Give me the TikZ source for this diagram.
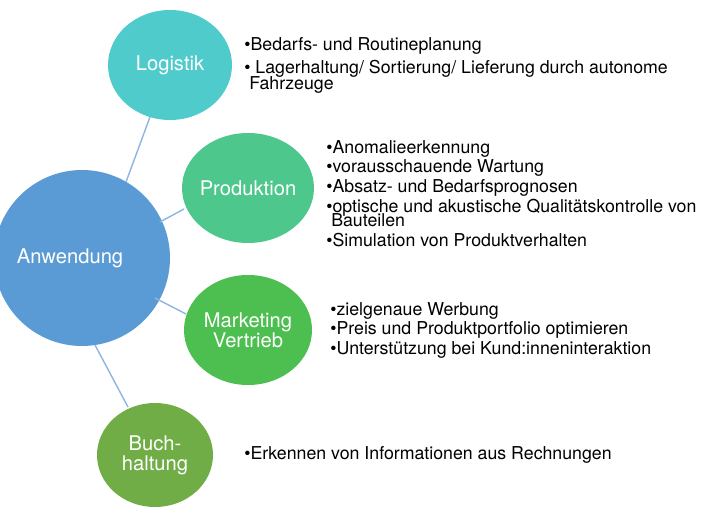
\documentclass[tikz,border=0pt]{standalone}
\usepackage{fontspec}
\setmainfont{TeX Gyre Heros}
\usetikzlibrary{positioning}
\definecolor{anwblue}{HTML}{5B9BD5}
\definecolor{logteal}{HTML}{4FCBCB}
\definecolor{prodgreen}{HTML}{4DC78C}
\definecolor{mktgreen}{HTML}{4DBE50}
\definecolor{buchgreen}{HTML}{70AD47}
\definecolor{linkblue}{HTML}{8EB4E3}
\begin{document}
\begin{tikzpicture}[x=0.02cm,y=-0.02cm]
  % Styles
  \tikzset{
    topic/.style={text=white,font=\fontsize{11.5}{12.5}\selectfont,align=center},
    bullets/.style={anchor=north west,align=left,inner sep=0pt,
      font=\fontsize{10.1}{11.2}\selectfont},
    link/.style={draw=linkblue,line width=0.8pt}
  }
  \useasboundingbox (0,0) rectangle (707,513);
  \begin{scope}
    \clip (0,0) rectangle (707,513);
    \fill[anwblue] (82,258) ellipse [x radius=88, y radius=88];
  \end{scope}
  \fill[logteal] (170,65) ellipse [x radius=62, y radius=55];
  \fill[prodgreen] (248,188) ellipse [x radius=66, y radius=55];
  \fill[mktgreen] (248,330) ellipse [x radius=64, y radius=55];
  \fill[buchgreen] (155,455) ellipse [x radius=58, y radius=52];
  \node (anw) at (70,258) [topic] {Anwendung};
  \node (log) at (170,65) [topic] {Logistik};
  \node (prod) at (248,188) [topic] {Produktion};
  \node (mkt) at (248,330) [topic] {Marketing\\[-1pt]Vertrieb};
  \node (buch) at (155,455) [topic] {Buch-\\[-1pt]haltung};

  % Connectors
  \coordinate (a1) at (126,182); \coordinate (b1) at (150,117);
  \coordinate (a2) at (160,222); \coordinate (b2) at (184,209);
  \coordinate (a3) at (155,298); \coordinate (b3) at (186,314);
  \coordinate (a4) at (95,345);  \coordinate (b4) at (128,407);
  \draw[link] (a1) -- (b1);
  \draw[link] (a2) -- (b2);
  \draw[link] (a3) -- (b3);
  \draw[link] (a4) -- (b4);

  % Lists
  \node (llog) at (244,37) [bullets] {•Bedarfs- und Routineplanung\\[2pt]
    • Lagerhaltung/ Sortierung/ Lieferung durch autonome\\[-2pt]
    \ Fahrzeuge};
  \node (lprod) at (326,140) [bullets] {•Anomalieerkennung\\[0pt]
    •vorausschauende Wartung\\[0pt]
    •Absatz- und Bedarfsprognosen\\[0pt]
    •optische und akustische Qualitätskontrolle von\\[-3pt]
    \ Bauteilen\\[0pt]
    •Simulation von Produktverhalten};
  \node (lmkt) at (330,302) [bullets] {•zielgenaue Werbung\\[0pt]
    •Preis und Produktportfolio optimieren\\[0pt]
    •Unterstützung bei Kund:inneninteraktion};
  \node (lbuch) at (244,446) [bullets] {•Erkennen von Informationen aus Rechnungen};
\end{tikzpicture}
\end{document}
